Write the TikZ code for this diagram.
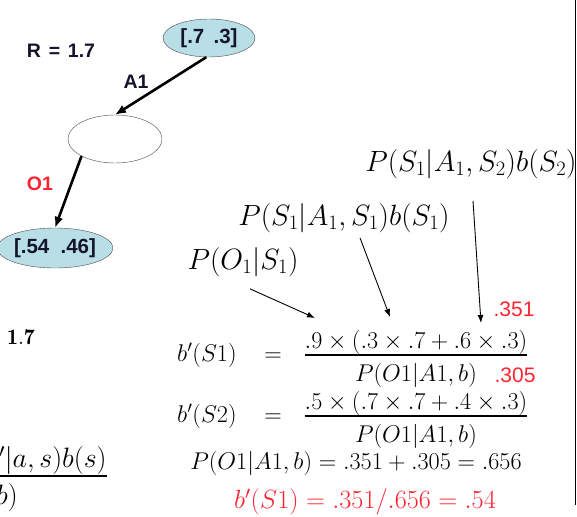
\RequirePackage{fix-cm}
\documentclass[tikz,border=0pt]{standalone}
\usepackage{amsmath}
\usepackage{fontspec}
\newfontfamily\labelfont{Liberation Sans}
\usetikzlibrary{shapes.geometric,arrows.meta}
\definecolor{beliefblue}{RGB}{184,222,230}
\definecolor{obsred}{RGB}{255,35,50}
\definecolor{labelink}{RGB}{20,20,45}
\tikzset{
  belief/.style={ellipse, draw=black!70, fill=beliefblue, minimum width=92pt, minimum height=38pt, inner sep=0pt, text=labelink, font=\labelfont\fontsize{20.5}{24}\selectfont\bfseries},
  actnode/.style={ellipse, draw=black!70, fill=white, minimum width=94pt, minimum height=48pt},
  treelbl/.style={text=labelink, font=\labelfont\fontsize{19.5}{23}\selectfont\bfseries},
  treearrow/.style={-{Latex[length=11pt,width=9pt]}, line width=2.6pt},
  termlbl/.style={font=\fontsize{29.3}{33}\selectfont, inner sep=0pt},
  termarrow/.style={-{Latex[length=8pt,width=6pt]}, line width=0.9pt},
  eqn/.style={font=\fontsize{24.2}{28}\selectfont, inner sep=0pt},
  rednum/.style={font=\labelfont\fontsize{21}{24}\selectfont, text=obsred},
}
\newcommand{\eqgap}{\hspace{21pt}=\hspace{15pt}}
\newcommand{\beliefrac}[2]{\genfrac{}{}{2.2pt}{0}%
  {\raisebox{-3.6pt}[20pt][0pt]{$#1$}}{\raisebox{0pt}[12pt][6pt]{$#2$}}}
\begin{document}
\begin{tikzpicture}[x=1pt, y=-1pt]
  \useasboundingbox (0,0) rectangle (577,516);
  % Belief tree
  \node[belief] (root) at (209,38) {[.7\hspace{0.45em}.3]};
  \node[actnode] (act) at (115,139) {};
  \node[belief, minimum width=100pt, minimum height=40pt] (post) at (55,248) {[.54\hspace{0.55em}.46]};
  \node[treelbl] (rew) at (61,51) {R\hspace{0.4em}=\hspace{0.4em}1.7};
  \node[treelbl] (alab) at (136,82) {A1};
  \node[treelbl, text=obsred] (olab) at (40,184) {O1};
  \draw[treearrow] (root.262) -- (act.north);
  \draw[treearrow] (act.207) -- (post.north);
  % Partial formula on the left
  \node[eqn, font=\fontsize{22}{26}\selectfont] (rval) at (21,337) {$\mathbf{1.7}$};
  \begin{scope}
    \clip (0,0) rectangle (577,516);
    \node[eqn, font=\fontsize{28}{32}\selectfont, anchor=east] (bellman) at (108,478)
      {$\beliefrac{P(o|s')\sum_{s}P(s'|a,s)b(s)}{P(o|a,b)}$};
  \end{scope}
  % Terms of the update
  \node[termlbl] (tS2) at (471,164) {$P(S_1|A_1,S_2)b(S_2)$};
  \node[termlbl] (tS1) at (344,218) {$P(S_1|A_1,S_1)b(S_1)$};
  \node[termlbl] (tO) at (243,262) {$P(O_1|S_1)$};
  \coordinate (hitO) at (315,318);
  \coordinate (hitS1) at (390,317);
  \coordinate (hitS2) at (481,323);
  \draw[termarrow] ([shift={(7pt,-12pt)}]tO.south) -- (hitO);
  \draw[termarrow] ([shift={(16pt,-5pt)}]tS1.south) -- (hitS1);
  \draw[termarrow] ([shift={(2pt,-22pt)}]tS2.south) -- (hitS2);
  % Belief update
  \node[eqn, anchor=west] (row1) at (177,356)
    {$b'(S1)\eqgap\beliefrac{.9\times(.3\times.7+.6\times.3)}{P(O1|A1,b)}$};
  \node[eqn, anchor=west] (row2) at (177,417)
    {$b'(S2)\eqgap\beliefrac{.5\times(.7\times.7+.4\times.3)}{P(O1|A1,b)}$};
  \node[eqn] (norm) at (356,463) {$P(O1|A1,b)=.351+.305=.656$};
  \node[eqn, font=\fontsize{26.3}{30}\selectfont, text=obsred] (result) at (365,502) {$b'(S1)=.351/.656=.54$};
  \node[rednum] (num1) at (514,309) {.351};
  \node[rednum] (num2) at (515,375) {.305};
  % Frame edge
  \draw[line width=1.6pt] (575.5,0) -- (575.5,505);
\end{tikzpicture}
\end{document}
